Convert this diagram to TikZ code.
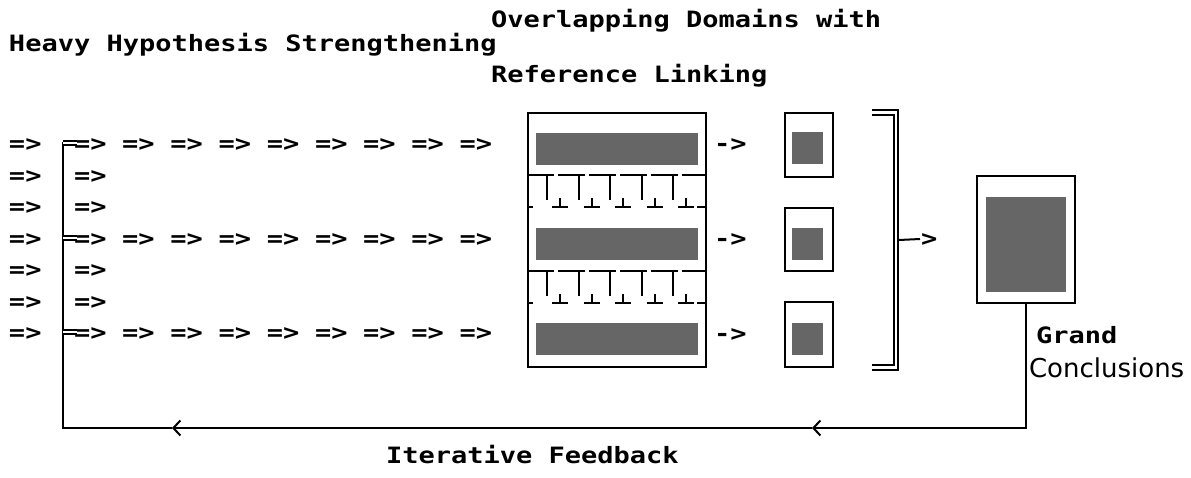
\documentclass[tikz,border=0pt]{standalone}
\usepackage{fontspec}
\newfontfamily\typefont[FakeStretch=1.2]{DejaVu Sans Mono}
\newfontfamily\labelfont{DejaVu Sans}
\usetikzlibrary{arrows.meta}

\begin{document}
\begin{tikzpicture}
		[x=1pt,y=-1pt,line width=2pt,
		typed/.style={inner sep=0pt,font=\typefont\bfseries\fontsize{22.5}{26}\selectfont},
		frame/.style={draw,inner sep=0pt,line width=2pt},
		shade/.style={fill=black!60,inner sep=0pt},
		barb/.style={-{Straight Barb[length=7pt,width=15pt]}}]
		\useasboundingbox (0,0) rectangle (1191,477);

		\node[typed,anchor=base west] (dom) at (490,27) {Overlapping Domains with};
		\node[typed,anchor=base west] (hyp) at (8,51) {Heavy Hypothesis Strengthening};
		\node[typed,anchor=base west] (ref) at (490,82) {Reference Linking};

		\foreach \r/\y in {1/145,2/177,3/208,4/240,5/271,6/303,7/334} {
			\node[typed,anchor=west] (a\r) at (8,\y) {=>};
			\node[typed,anchor=west] (b\r) at (73,\y) {=>};
		}
		\foreach \r/\y in {1/145,4/240,7/334}
			\foreach \c in {1,...,8}
				\node[typed,anchor=west] (r\r c\c) at (73+48.2*\c,\y) {=>};

		\node[frame,minimum width=178,minimum height=254] (link) at (617,240) {};
		\node[shade,minimum width=162,minimum height=32] (g1) at (617,149) {};
		\node[shade,minimum width=162,minimum height=32] (g2) at (617,244) {};
		\node[shade,minimum width=162,minimum height=32] (g3) at (617,339) {};
		\foreach \s in {175,271} {
			\draw[dash pattern=on 27pt off 4pt] (link.west |- 0,\s) -- (link.east |- 0,\s);
			\foreach \i in {0,...,4} {
				\draw (547+31.6*\i,\s) -- ++(0,25);
				\draw (552+31.6*\i,\s+32) -- ++(16,0) (560+31.6*\i,\s+32) -- ++(0,-9);
			}
			\draw (link.west |- 0,\s+32) -- ++(6,0);
			\draw (link.east |- 0,\s+32) -- ++(-10,0);
		}

		\node[typed,anchor=west] (p1) at (713,145) {->};
		\node[typed,anchor=west] (p2) at (713,240) {->};
		\node[typed,anchor=west] (p3) at (713,335) {->};

		\node[frame,minimum width=48,minimum height=64] (s1) at (809,145) {};
		\node[frame,minimum width=48,minimum height=63] (s2) at (809,239.5) {};
		\node[frame,minimum width=48,minimum height=65] (s3) at (809,334.5) {};
		\node[shade,minimum width=31,minimum height=32] (k1) at (807.5,148) {};
		\node[shade,minimum width=31,minimum height=32] (k2) at (807.5,244) {};
		\node[shade,minimum width=31,minimum height=32] (k3) at (807.5,339) {};

		\draw[double,double distance=2.5pt,line width=1.8pt] (872,112.5) -| (896,367.5) -- (872,367.5);
		\coordinate (brk) at (899,240);
		\node[typed,anchor=west] (go) at (920,240) {>};
		\draw (brk) -- ([yshift=1pt]go.west);

		\node[frame,minimum width=98,minimum height=127] (fin) at (1026,239.5) {};
		\node[shade,minimum width=80,minimum height=95] (fg) at (1026,244.5) {};
		\node[typed,anchor=base west] (grand) at (1035,343) {Grand};
		\node[anchor=base west,inner sep=0pt,font=\labelfont\fontsize{26}{30}\selectfont] (conc) at (1028,377) {Conclusions};

		\coordinate (m1) at (812,428);
		\coordinate (m2) at (172,428);
		\coordinate (rail) at (63,428);
		\draw[barb] (fin.south) |- (m1);
		\draw[barb] (m1) -- (m2);
		\draw (m2) -- (rail) -- (rail |- 0,141.5);
		\foreach \r in {1,4,7} {
			\coordinate (e\r) at ([yshift=2pt,xshift=4pt]b\r.west);
			\draw[double,double distance=2.5pt,line width=1.8pt] (rail |- e\r) -- (e\r);
		}
		\node[typed,anchor=base west] (iter) at (385,463) {Iterative Feedback};

	\end{tikzpicture}
\end{document}
